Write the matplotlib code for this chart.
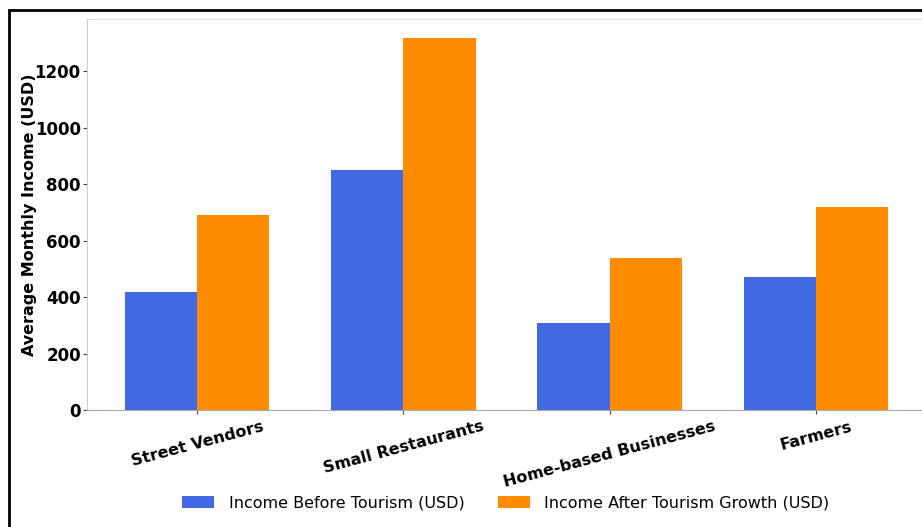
import matplotlib
matplotlib.use("Agg")
import matplotlib.pyplot as plt
import numpy as np
from matplotlib.patches import Rectangle

categories = ["Street Vendors", "Small Restaurants", "Home-based Businesses", "Farmers"]
before = [420, 850, 310, 470]
after = [690, 1320, 540, 720]
series_labels = ["Income Before Tourism (USD)", "Income After Tourism Growth (USD)"]

W, H = 922, 527
fig = plt.figure(figsize=(W / 100, H / 100), dpi=100)

# figure frame (cropped on right and bottom)
fig.patches.append(Rectangle((9 / W, -0.1), 1.2, 1 - 10 / H + 0.1, transform=fig.transFigure,
                             fill=False, edgecolor="black", linewidth=2, zorder=10))

ax = fig.add_axes([87 / W, 1 - 410 / H, (926 - 87) / W, (410 - 19) / H])
x = np.arange(len(categories))
w = 0.35
b1 = ax.bar(x - w / 2, before, w, color="#4169E1", linewidth=0, label=series_labels[0])
b2 = ax.bar(x + w / 2, after, w, color="#FF8C00", linewidth=0, label=series_labels[1])

ax.set_xticks(x)
ax.set_xticklabels(categories, rotation=15, ha="center", fontweight="bold", fontsize=11.5)
ax.tick_params(axis="y", labelsize=12, pad=1.5)
for lbl in ax.get_yticklabels():
    lbl.set_fontweight("bold")
ax.set_ylabel("Average Monthly Income (USD)", fontweight="bold", fontsize=11.5, labelpad=-2)

for s in ["top", "right"]:
    ax.spines[s].set_color("#dddddd")
ax.spines["left"].set_color("#cccccc")
ax.spines["bottom"].set_color("#aaaaaa")
ax.tick_params(length=3, color="#444444")

fig.legend(handles=[b1, b2], labels=series_labels, loc="center", bbox_to_anchor=(506 / W, 1 - 503 / H),
           ncol=2, frameon=False, fontsize=11.5, columnspacing=2.1, handlelength=2.0,
           handletextpad=0.9)

fig.savefig("out.png", dpi=100)
